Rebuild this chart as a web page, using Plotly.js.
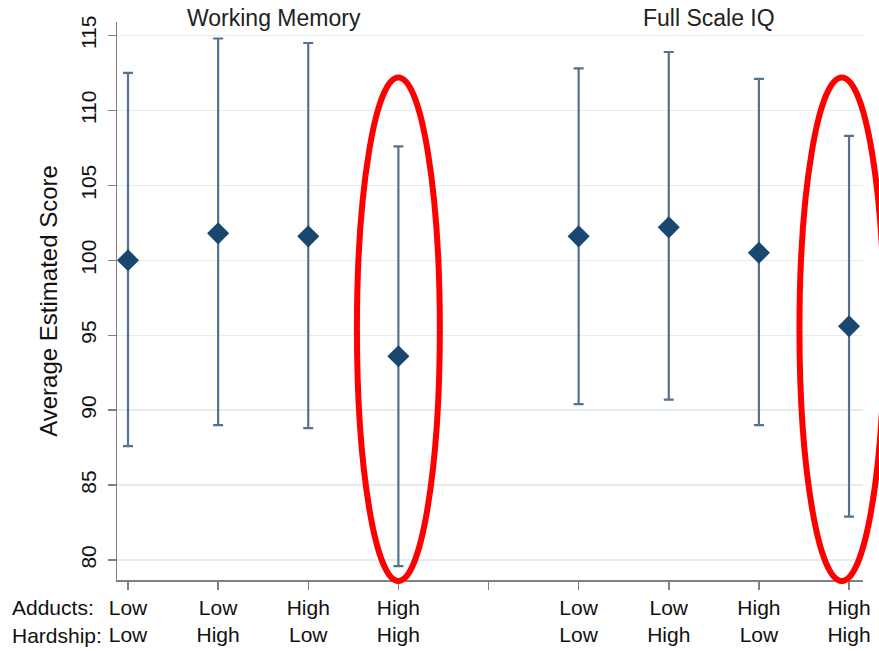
<!DOCTYPE html>
<html>
<head>
<meta charset="utf-8">
<script src="https://cdn.plot.ly/plotly-3.0.1.min.js"></script>
<style>html,body{margin:0;padding:0;background:#fff;}#chart{width:879px;height:651px;}</style>
</head>
<body>
<div id="chart"></div>
<script>
// ---- data ----
const panels = ['Working Memory', 'Full Scale IQ'];
const adducts = ['Low', 'Low', 'High', 'High', 'Low', 'Low', 'High', 'High'];
const hardship = ['Low', 'High', 'Low', 'High', 'Low', 'High', 'Low', 'High'];
const xPos = [1, 2, 3, 4, 6, 7, 8, 9];
const means = [100.0, 101.8, 101.6, 93.6, 101.6, 102.2, 100.5, 95.6];
const upper = [112.5, 114.8, 114.5, 107.6, 112.8, 113.9, 112.1, 108.3];
const lower = [87.6, 89.0, 88.8, 79.6, 90.4, 90.7, 89.0, 82.9];
const yTicks = [80, 85, 90, 95, 100, 105, 110, 115];
const rowLabels = ['Adducts:', 'Hardship:'];
// highlighted groups (x position, half width in x units)
const highlights = [{cx: 4.0, hw: 0.46}, {cx: 8.92, hw: 0.47}];

// ---- layout helpers ----
const xr = [0.878, 9.155];
const yr = [78.67, 115.9];
const FONT = 'Liberation Sans, Arial, Helvetica, sans-serif';
const px = x => (x - xr[0]) / (xr[1] - xr[0]);
const py = y => (y - yr[0]) / (yr[1] - yr[0]);

const tickVals = [1, 2, 3, 4, 5, 6, 7, 8, 9];
const tickText = tickVals.map(v => {
  const i = xPos.indexOf(v);
  return i < 0 ? '' : adducts[i] + '<br>' + hardship[i];
});

const trace = {
  type: 'scatter',
  mode: 'markers',
  x: xPos,
  y: means,
  marker: {symbol: 'diamond', size: 17, color: '#1a476f', line: {width: 0}},
  error_y: {
    type: 'data', symmetric: false,
    array: upper.map((u, i) => u - means[i]),
    arrayminus: means.map((m, i) => m - lower[i]),
    color: '#56708f', thickness: 2.2, width: 5
  },
  cliponaxis: false,
  hoverinfo: 'x+y'
};

const shapes = highlights.map(h => ({
  type: 'circle', xref: 'paper', yref: 'paper',
  x0: px(h.cx - h.hw), x1: px(h.cx + h.hw),
  y0: py(78.6), y1: py(112.2),
  line: {color: '#ff0000', width: 6}, layer: 'above'
}));

const annotations = [
  {text: panels[0], x: 2.62, xref: 'x', y: 1.008, yref: 'paper', xanchor: 'center', yanchor: 'middle', showarrow: false, font: {size: 23, color: '#222'}},
  {text: panels[1], x: 7.45, xref: 'x', y: 1.008, yref: 'paper', xanchor: 'center', yanchor: 'middle', showarrow: false, font: {size: 23, color: '#222'}},
  {text: rowLabels[0], x: -0.1434, xref: 'paper', y: -0.0484, yref: 'paper', xanchor: 'left', yanchor: 'middle', showarrow: false, font: {size: 21, color: '#111'}},
  {text: rowLabels[1], x: -0.1434, xref: 'paper', y: -0.1, yref: 'paper', xanchor: 'left', yanchor: 'middle', showarrow: false, font: {size: 21, color: '#111'}}
];

const layout = {
  width: 879, height: 651,
  margin: {l: 117, r: 16, t: 22, b: 71, pad: 0},
  paper_bgcolor: '#ffffff', plot_bgcolor: '#ffffff',
  font: {family: FONT, color: '#111', size: 21},
  showlegend: false,
  xaxis: {
    range: xr, tickmode: 'array', tickvals: tickVals, ticktext: tickText,
    ticks: 'outside', ticklen: 8, tickwidth: 1.5, tickcolor: '#808080',
    showline: true, linecolor: '#808080', linewidth: 1.5,
    showgrid: false, zeroline: false, tickfont: {size: 21, color: '#111'},
    fixedrange: true
  },
  yaxis: {
    range: yr, tickmode: 'array', tickvals: yTicks,
    ticks: 'outside', ticklen: 8, tickwidth: 1.5, tickcolor: '#808080',
    showline: true, linecolor: '#808080', linewidth: 1.5,
    showgrid: true, gridcolor: '#e2edf0', gridwidth: 1.5, zeroline: false,
    tickangle: -90, tickfont: {size: 21, color: '#111'}, ticklabelstandoff: 3,
    title: {text: 'Average Estimated Score', font: {size: 24, color: '#111'}, standoff: 12},
    fixedrange: true
  },
  shapes: shapes,
  annotations: annotations
};

Plotly.newPlot('chart', [trace], layout, {displayModeBar: false, staticPlot: true});
</script>
</body>
</html>
